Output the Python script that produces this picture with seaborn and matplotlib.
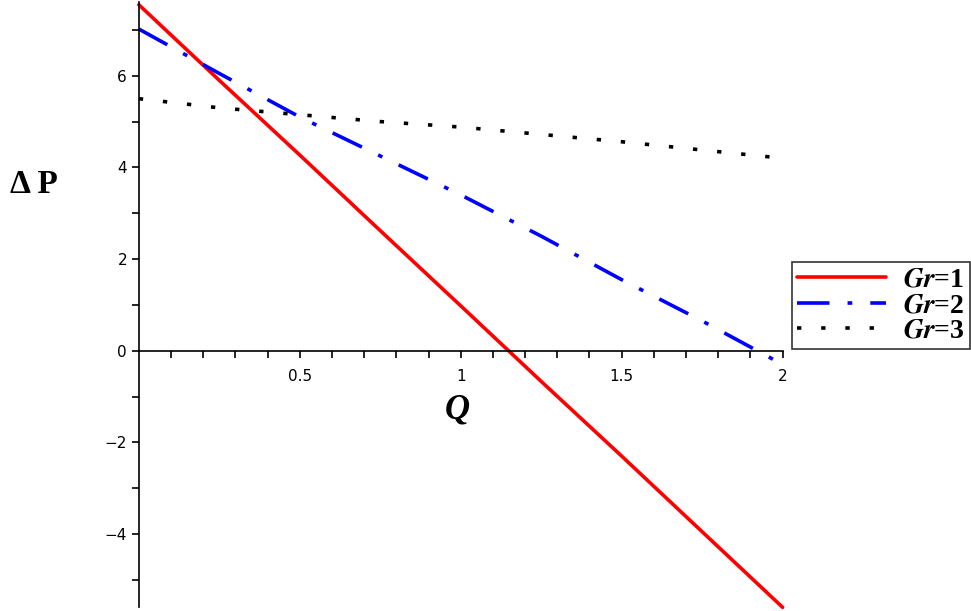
import matplotlib
matplotlib.use("Agg")
import matplotlib.pyplot as plt
import numpy as np
import pandas as pd
import seaborn as sns

# === Data ===
q_values = [0.0, 0.25, 0.5, 0.75, 1.0, 1.25, 1.5, 1.75, 2.0]
dp_gr1 = [7.55, 5.9, 4.27, 2.62, 0.98, -0.67, -2.3, -3.95, -5.6]
dp_gr2 = [7.02, 6.05, 5.1, 4.25, 3.4, 2.5, 1.55, 0.65, -0.3]
dp_gr3 = [5.5, 5.3, 5.15, 5.0, 4.88, 4.72, 4.56, 4.38, 4.2]
gr_labels = [r"$\mathbfit{Gr}$=1", r"$\mathbfit{Gr}$=2", r"$\mathbfit{Gr}$=3"]

x_ticks = [0.5, 1.0, 1.5, 2.0]
x_tick_labels = ["0.5", "1", "1.5", "2"]
y_ticks = [-4, -2, 0, 2, 4, 6]

df = pd.DataFrame({
    "Q": q_values * 3,
    "dP": dp_gr1 + dp_gr2 + dp_gr3,
    "Gr": [gr_labels[0]] * len(q_values) + [gr_labels[1]] * len(q_values) + [gr_labels[2]] * len(q_values),
})

sns.set_style("white")
plt.rcParams["mathtext.fontset"] = "stix"
plt.rcParams["font.family"] = ["DejaVu Sans"]
plt.rcParams["text.color"] = "black"

fig = plt.figure(figsize=(9.71, 6.11), dpi=100)
ax = fig.add_axes([0.143, 0.006, 0.663, 0.99])

palette = {gr_labels[0]: "#ff0000", gr_labels[1]: "#0000ff", gr_labels[2]: "#000000"}
dashes = {gr_labels[0]: "", gr_labels[1]: (9, 5, 1.3, 5), gr_labels[2]: (1.2, 5.5)}
sns.lineplot(data=df, x="Q", y="dP", hue="Gr", style="Gr", palette=palette,
             dashes=dashes, linewidth=2.6, ax=ax, clip_on=False)

ax.set_xlim(0, 2)
ax.set_ylim(-5.6, 7.6)

# axes through the origin, Maple-like
ax.spines["top"].set_visible(False)
ax.spines["right"].set_visible(False)
ax.spines["bottom"].set_position(("data", 0))
ax.spines["left"].set_position(("data", 0))
for s in ["bottom", "left"]:
    ax.spines[s].set_linewidth(1.2)
    ax.spines[s].set_color("black")

ax.set_xticks(x_ticks)
ax.set_xticklabels(x_tick_labels)
ax.set_xticks(np.arange(0.1, 2.0, 0.1), minor=True)
ax.set_yticks(y_ticks)
ax.set_yticks(np.arange(-5, 8, 1), minor=True)
ax.tick_params(axis="both", which="both", direction="out", length=5, width=1.2,
               colors="black", labelsize=11, bottom=True, left=True)
ax.tick_params(axis="x", pad=8)

ax.set_xlabel("")
ax.set_ylabel("")
ax.text(0.99, -1.3, "Q", fontsize=25, fontweight="bold", fontstyle="italic",
        family="Liberation Serif", ha="center", va="center", color="black")
ax.text(-0.325, 3.62, "\u0394 P", fontsize=24, fontweight="bold",
        family="Liberation Serif", ha="center", va="center", color="black")

leg = ax.legend(loc="upper left", bbox_to_anchor=(1.014, 0.571), frameon=True,
                fancybox=False, edgecolor="black", handlelength=3.2,
                borderpad=0.2, labelspacing=0.0, handletextpad=0.6, borderaxespad=0,
                prop={"family": "Liberation Serif", "weight": "bold", "size": 20})
leg.get_frame().set_linewidth(1.2)
for t in leg.get_texts():
    t.set_color("black")

fig.savefig("out.png", dpi=100)
